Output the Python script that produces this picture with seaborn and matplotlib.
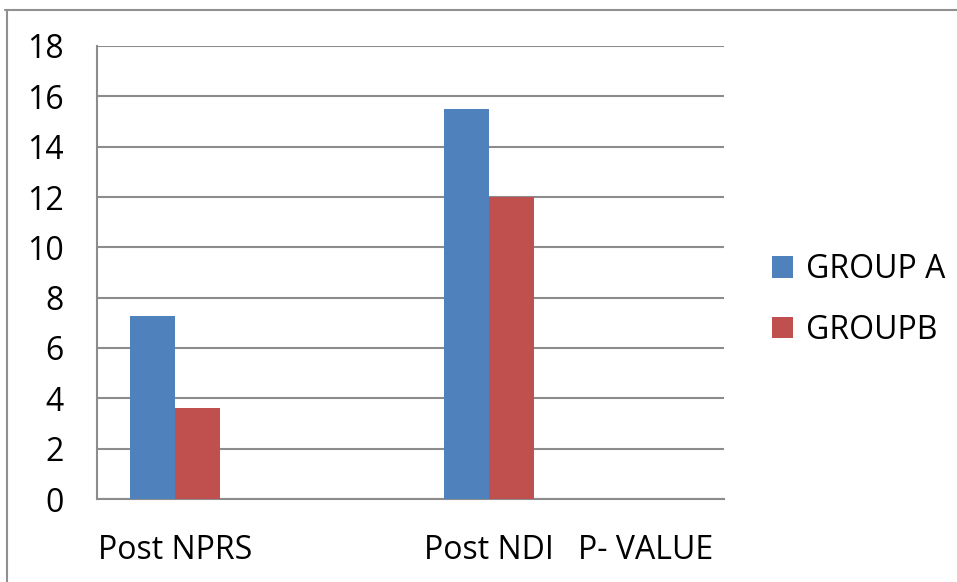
import matplotlib
matplotlib.use("Agg")
import matplotlib.pyplot as plt
from matplotlib.lines import Line2D
import seaborn as sns
import pandas as pd

categories = ["Post NPRS", "", "Post NDI", "P- VALUE"]
group_a = [7.27, 0.0, 15.5, 0.0]
group_b = [3.63, 0.0, 12.0, 0.0]
series_names = ["GROUP A", "GROUPB"]
y_ticks = [0, 2, 4, 6, 8, 10, 12, 14, 16, 18]

df = pd.DataFrame({
    "category": categories * 2,
    "value": group_a + group_b,
    "series": [series_names[0]] * len(categories) + [series_names[1]] * len(categories),
})

sns.set_theme(style="white")
plt.rcParams["font.family"] = ["Open Sans", "DejaVu Sans"]
FS = 23

W, H = 957, 582
fig = plt.figure(figsize=(W / 100, H / 100), dpi=100)
ax = fig.add_axes([97 / W, (H - 499) / H, (724 - 97) / W, (499 - 46) / H])

grid_c = "#8c8c8c"
sns.barplot(data=df, x="category", y="value", hue="series", order=categories,
            hue_order=series_names, palette=["#4F81BD", "#C0504D"],
            width=0.575, saturation=1, ax=ax, legend=True, zorder=3,
            linewidth=0)

ax.set_ylim(0, 18)
ax.set_xlim(-0.5, len(categories) - 0.5)
ax.set_yticks(y_ticks)
ax.set_yticklabels([str(t) for t in y_ticks], fontsize=FS, color="black")
ax.yaxis.grid(True, color=grid_c, linewidth=1.5, zorder=0)
ax.set_axisbelow(True)

# category labels centred, tick marks on category boundaries
ax.set_xticks(range(len(categories)))
ax.set_xticklabels(categories, fontsize=FS, color="black")
ax.tick_params(axis="x", length=0, pad=25)
ax.set_xticks([i - 0.5 for i in range(len(categories) + 1)], minor=True)
ax.tick_params(axis="x", which="minor", length=8.5, width=1.5, color=grid_c, direction="out")
ax.tick_params(axis="y", length=7.2, width=1.5, color=grid_c, direction="out", pad=17)
ax.set_xlabel("")
ax.set_ylabel("")

for side in ("top", "right"):
    ax.spines[side].set_visible(False)
for side in ("left", "bottom"):
    ax.spines[side].set_color(grid_c)
    ax.spines[side].set_linewidth(1.5)

handles, labels = ax.get_legend_handles_labels()
ax.get_legend().remove()
leg = fig.legend(handles, labels, loc="center left", bbox_to_anchor=(756 / W, 1 - 300 / H),
                 frameon=False, fontsize=FS, handlelength=0.66, handleheight=0.66,
                 handletextpad=0.4, labelspacing=0.85, borderpad=0)
for t in leg.get_texts():
    t.set_color("black")

# outer chart border (top and left edges)
fig.add_artist(Line2D([5 / W, 1], [1 - 9.5 / H, 1 - 9.5 / H], transform=fig.transFigure,
                      color="#909090", linewidth=1.5))
fig.add_artist(Line2D([7 / W, 7 / W], [0, 1 - 9.5 / H], transform=fig.transFigure,
                      color="#909090", linewidth=1.5))

fig.savefig("out.png", dpi=100)
